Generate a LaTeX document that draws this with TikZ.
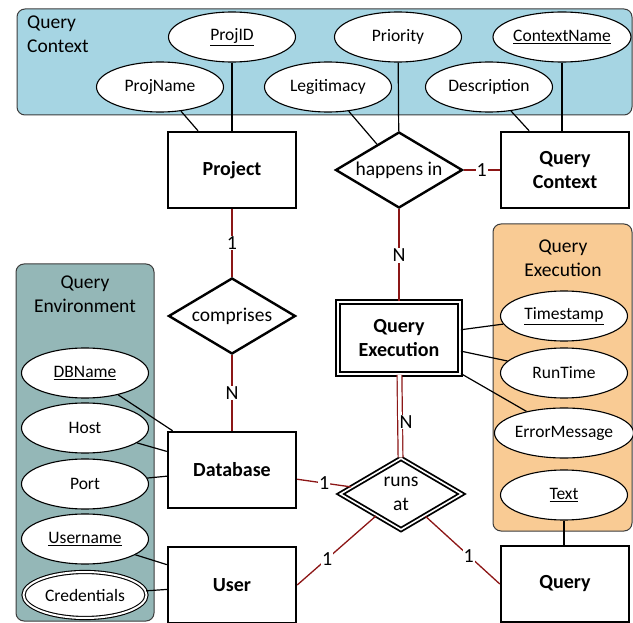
\documentclass[tikz,border=0pt]{standalone}
\usepackage{fontspec}
\setmainfont{Carlito}
\usetikzlibrary{shapes.geometric}

\definecolor{ctxblue}{RGB}{166,213,227}
\definecolor{envteal}{RGB}{148,183,183}
\definecolor{exeorange}{RGB}{249,203,148}
\definecolor{relred}{RGB}{140,22,22}
\definecolor{paneledge}{RGB}{60,60,60}

\tikzset{
  panel/.style={draw=paneledge, line width=1pt, rounded corners=8pt},
  entity/.style={rectangle, draw, fill=white, line width=2.4pt, minimum width=128pt,
    minimum height=76pt, inner sep=0pt, align=center,
    font=\fontsize{20}{24}\selectfont\bfseries},
  weakentity/.style={entity, double, line width=1.8pt, double distance=1.6pt,
    minimum width=122pt, minimum height=72pt},
  attr/.style={ellipse, draw, fill=white, line width=1.1pt, minimum width=127pt,
    minimum height=50pt, inner sep=0pt, font=\fontsize{17.5}{20}\selectfont},
  multiattr/.style={attr, double, double distance=2pt, minimum width=123pt,
    minimum height=46pt},
  rel/.style={diamond, draw, fill=white, line width=2.4pt, aspect=1.67,
    minimum width=127pt, minimum height=76pt, inner sep=0pt, align=center,
    font=\fontsize{19.5}{23}\selectfont},
  weakrel/.style={rel, double, line width=1.8pt, double distance=1.6pt,
    minimum width=122pt, minimum height=72pt, font=\fontsize{19.5}{24}\selectfont},
  attrline/.style={draw=black, line width=1.2pt},
  relline/.style={draw=relred, line width=1.3pt},
  card/.style={fill=white, inner sep=1pt, text=black, font=\fontsize{20}{23}\selectfont},
  paneltitle/.style={inner sep=0pt, font=\fontsize{19.5}{23.5}\selectfont}
}

\begin{document}
\begin{tikzpicture}[x=1pt, y=-1pt]
\useasboundingbox (0,0) rectangle (633,623);

% attribute groups
\draw[panel, fill=ctxblue] (17,9) rectangle (632,115);
\draw[panel, fill=envteal] (16,264) rectangle (154,621);
\draw[panel, fill=exeorange] (493,224) rectangle (632,531);

\node[paneltitle, anchor=north west, align=left] (tctx) at (27,16) {Query\\Context};
\node[paneltitle, align=center] (tenv) at (85,294) {Query\\Environment};
\node[paneltitle, align=center] (texe) at (563,258) {Query\\Execution};

% entities
\node[entity] (proj) at (232,170) {Project};
\node[entity] (qctx) at (565,170) {Query\\Context};
\node[entity] (db)   at (232,470) {Database};
\node[entity] (usr)  at (232,585) {User};
\node[entity] (qry)  at (565,584) {Query};
\node[weakentity] (qexe) at (399,338) {Query\\Execution};

% relationships
\node[rel] (hin)  at (399,170) {happens in};
\node[rel] (comp) at (232,316) {comprises};
\node[weakrel] (rat) at (401,494) {runs\\at};

% attributes
\node[attr] (pid)   at (232,37) {\underline{ProjID}};
\node[attr] (pname) at (160,87) {ProjName};
\node[attr] (legit) at (328,87) {Legitimacy};
\node[attr] (prio)  at (398,37) {Priority};
\node[attr] (desc)  at (489,87) {Description};
\node[attr] (cname) at (562,37) {\underline{ContextName}};

\node[attr] (dbn)  at (85,373) {\underline{DBName}};
\node[attr] (host) at (85,428) {Host};
\node[attr] (port) at (85,484) {Port};
\node[attr] (uname) at (85,539) {\underline{Username}};
\node[multiattr] (cred) at (85,595) {Credentials};

\node[attr] (tstamp) at (564,316) {\underline{Timestamp}};
\node[attr] (rtime)  at (564,373) {RunTime};
\node[attr] (emsg)   at (564,433) {ErrorMessage};
\node[attr] (qtext)  at (564,495) {\underline{Text}};

% attribute links
\draw[attrline] (pname) -- (proj);
\draw[attrline] (pid) -- (proj);
\draw[attrline] (legit) -- (hin);
\draw[attrline] (prio) -- (hin);
\draw[attrline] (desc) -- (qctx);
\draw[attrline] (cname.south) -- (cname.south |- qctx.north);
\draw[attrline] (dbn) -- (db);
\draw[attrline] (host) -- (db);
\draw[attrline] (port) -- (db);
\draw[attrline] (uname) -- (usr);
\draw[attrline] (cred) -- (usr);
\draw[attrline] (qexe) -- (tstamp);
\draw[attrline] (qexe) -- (rtime);
\draw[attrline] (qexe) -- (emsg);
\draw[attrline] (qtext.south) -- (qtext.south |- qry.north);

% relationship links with cardinalities
\draw[relline] (hin) -- node[card] {1} (qctx);
\draw[relline] (hin) -- node[card] {N} (qexe);
\draw[relline] (proj) -- node[card] {1} (comp);
\draw[relline] (comp) -- node[card] {N} (db);
\draw[relline, double=white, double distance=3.6pt, line width=1.2pt] (qexe) -- (rat);
\node[card, inner sep=0.5pt] (nexe) at (406,422) {N};
\draw[relline] (db) -- node[card] {1} (rat);
\draw[relline] (usr.east) -- node[card, pos=0.38] {1} (rat);
\draw[relline] (qry.west) -- node[card, pos=0.42] {1} (rat);
\end{tikzpicture}
\end{document}
